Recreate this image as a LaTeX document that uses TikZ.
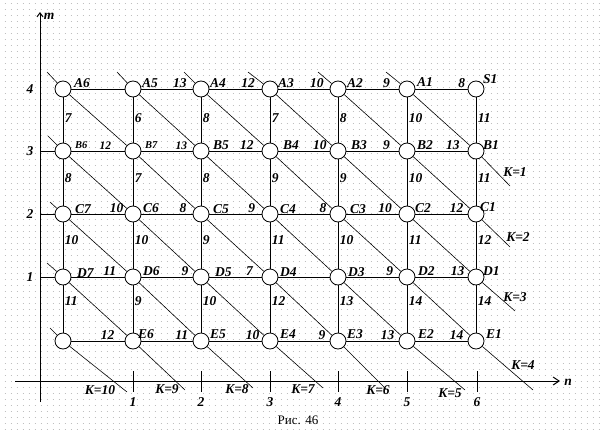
\documentclass[tikz,border=0pt]{standalone}
\usepackage{fontspec}
\setmainfont{Liberation Serif}
\usetikzlibrary{arrows.meta}
\begin{document}
\begin{tikzpicture}[x=1pt,y=-1pt,
  v/.style={circle,draw,fill=white,minimum size=16pt,inner sep=0pt,line width=0.8pt},
  bi/.style={font=\fontsize{13.5}{14}\selectfont\bfseries\itshape},
  nm/.style={bi,anchor=west,inner sep=0pt},
  nms/.style={nm,font=\fontsize{10.5}{11}\selectfont\bfseries\itshape},
  hw/.style={bi,above,inner sep=1pt},
  hws/.style={hw,font=\fontsize{11.5}{12}\selectfont\bfseries\itshape},
  vw/.style={bi,right,inner sep=1.5pt},
  edge/.style={line width=0.85pt},
  diag/.style={line width=0.6pt},
  axis/.style={line width=1pt},
  klab/.style={bi,inner sep=0pt},
]
\useasboundingbox (0,0) rectangle (604,434);
\fill[white] (0,0) rectangle (604,434);
% dotted background
\foreach \yy in {3,9,...,434}
  \draw[black!25,line width=1pt,dash pattern=on 1pt off 5pt] (4.5,\yy) -- (604,\yy);

% axes
\coordinate (mlo) at (40,402);
\coordinate (mhi) at (40,12);
\coordinate (nlo) at (15,381);
\coordinate (nhi) at (560,381);
\draw[axis,-{Straight Barb[length=4pt,width=6pt]}] (mlo) -- (mhi);
\draw[axis,-{Straight Barb[length=6pt,width=8pt]}] (nlo) -- (nhi);
\node[bi,inner sep=0pt] (mlab) at (49,16) {m};
\node[bi,inner sep=0pt] (nlab) at (568,382) {n};
\foreach \x/\t in {133/1,201/2,270/3,338/4,407/5,477/6}{
  \draw[axis] (\x,371) -- (\x,392);
  \node[bi,inner sep=0pt] (nt\t) at (\x,402) {\t};
}
\foreach \y/\t in {89/4,151/3,214/2,277/1}
  \node[bi,inner sep=0pt] (mt\t) at (30,\y) {\t};

% nodes
\foreach \n/\x/\y in {A6/63/89,A5/133/89,A4/201/89,A3/270/89,A2/338/89,A1/407/89,S1/476/89,
  B6/63/151,B7/133/151,B5/201/151,B4/270/151,B3/338/151,B2/407/151,B1/476/151,
  C7/63/214,C6/133/214,C5/201/214,C4/270/214,C3/338/214,C2/407/214,C1/476/214,
  D7/63/277,D6/133/277,D5/201/277,D4/270/277,D3/338/277,D2/407/277,D1/476/277,
  E7/63/341,E6/133/341,E5/201/341,E4/270/341,E3/338/341,E2/407/341,E1/476/341}
  \node[v] (\n) at (\x,\y) {};

% node names
\foreach \n/\x/\y in {A6/74/83,A5/142/83,A4/210/83,A3/278/83,A2/347/83,A1/417/82,S1/483/79,
  B5/213/145,B4/283/145,B3/351/145,B2/417/145,B1/483/145,
  C7/75/209,C6/143/208,C5/213/209,C4/280/209,C3/350/209,C2/415/208,C1/480/207,
  D7/77/273,D6/143/271,D5/215/272,D4/280/272,D3/348/272,D2/418/271,D1/483/271,
  E6/138/334,E5/210/334,E4/280/334,E3/347/334,E2/418/334,E1/486/334}
  \node[nm] (t\n) at (\x,\y) {\n};
\node[nms] (tB6) at (75,145) {B6};
\node[nms] (tB7) at (145,145) {B7};

% axis-to-row lines
\coordinate (yB) at (40,151);
\coordinate (yC) at (40,214);
\coordinate (yD) at (40,277);
\draw[edge] (yB) -- (B6);
\draw[edge] (yC) -- (C7);
\draw[edge] (yD) -- (D7);

% horizontal edges
\draw[edge] (A6) -- (A5);
\draw[edge] (A5) -- node[hw,pos=.75]{13} (A4);
\draw[edge] (A4) -- node[hw,pos=.74]{12} (A3);
\draw[edge] (A3) -- node[hw,pos=.75]{10} (A2);
\draw[edge] (A2) -- node[hw,pos=.77]{9} (A1);
\draw[edge] (A1) -- node[hw,pos=.89]{8} (S1);

\draw[edge] (B6) -- node[hws,pos=.64]{12} (B7);
\draw[edge] (B7) -- node[hws,pos=.78]{13} (B5);
\draw[edge] (B5) -- node[hw,pos=.72]{12} (B4);
\draw[edge] (B4) -- node[hw,pos=.81]{10} (B3);
\draw[edge] (B3) -- node[hw,pos=.77]{9} (B2);
\draw[edge] (B2) -- node[hw,pos=.72]{13} (B1);

\draw[edge] (C7) -- node[hw,pos=.85]{10} (C6);
\draw[edge] (C6) -- node[hw,pos=.81]{8} (C5);
\draw[edge] (C5) -- node[hw,pos=.81]{9} (C4);
\draw[edge] (C4) -- node[hw,pos=.87]{8} (C3);
\draw[edge] (C3) -- node[hw,pos=.74]{10} (C2);
\draw[edge] (C2) -- node[hw,pos=.79]{12} (C1);

\draw[edge] (D7) -- node[hw,pos=.72]{11} (D6);
\draw[edge] (D6) -- node[hw,pos=.85]{9} (D5);
\draw[edge] (D5) -- node[hw,pos=.77]{7} (D4);
\draw[edge] (D4) -- (D3);
\draw[edge] (D3) -- node[hw,pos=.83]{9} (D2);
\draw[edge] (D2) -- node[hw,pos=.81]{13} (D1);

\draw[edge] (E7) -- node[hw,pos=.68]{12} (E6);
\draw[edge] (E6) -- node[hw,pos=.79]{11} (E5);
\draw[edge] (E5) -- node[hw,pos=.83]{10} (E4);
\draw[edge] (E4) -- node[hw,pos=.85]{9} (E3);
\draw[edge] (E3) -- node[hw,pos=.79]{13} (E2);
\draw[edge] (E2) -- node[hw,pos=.79]{14} (E1);

% vertical edges
\foreach \na/\nb/\nc/\nd/\ne/\qa/\qb/\qc/\qd in {
  A6/B6/C7/D7/E7/7/8/10/11,
  A5/B7/C6/D6/E6/6/7/10/9,
  A4/B5/C5/D5/E5/8/8/9/10,
  A3/B4/C4/D4/E4/7/9/11/12,
  A2/B3/C3/D3/E3/8/9/10/13,
  A1/B2/C2/D2/E2/10/10/11/14,
  S1/B1/C1/D1/E1/11/11/12/14}{
  \draw[edge] (\na) -- node[vw,pos=.46]{\qa} (\nb)
                    -- node[vw,pos=.40]{\qb} (\nc)
                    -- node[vw,pos=.38]{\qc} (\nd)
                    -- node[vw,pos=.34]{\qd} (\ne);
}

% diagonals
\coordinate (s1) at (386,72);  \coordinate (e1) at (510,186);
\coordinate (s2) at (318,72);  \coordinate (e2) at (510,247);
\coordinate (s3) at (248,72);  \coordinate (e3) at (515,311);
\coordinate (s4) at (184,72);  \coordinate (e4) at (533,390);
\coordinate (s5) at (117,72);  \coordinate (e5) at (465,390);
\coordinate (s6) at (47,72);   \coordinate (e6) at (386,389);
\coordinate (s7) at (48,136);  \coordinate (e7) at (323,388);
\coordinate (s8) at (50,202);  \coordinate (e8) at (253,388);
\coordinate (s9) at (47,263);  \coordinate (e9) at (185,390);
\coordinate (s10) at (50,328); \coordinate (e10) at (127,392);
\draw[diag] (s1) -- (A1) -- (B1) -- (e1);
\draw[diag] (s2) -- (A2) -- (B2) -- (C1) -- (e2);
\draw[diag] (s3) -- (A3) -- (B3) -- (C2) -- (D1) -- (e3);
\draw[diag] (s4) -- (A4) -- (B4) -- (C3) -- (D2) -- (E1) -- (e4);
\draw[diag] (s5) -- (A5) -- (B5) -- (C4) -- (D3) -- (E2) -- (e5);
\draw[diag] (s6) -- (A6) -- (B7) -- (C5) -- (D4) -- (E3) -- (e6);
\draw[diag] (s7) -- (B6) -- (C6) -- (D5) -- (E4) -- (e7);
\draw[diag] (s8) -- (C7) -- (D6) -- (E5) -- (e8);
\draw[diag] (s9) -- (D7) -- (E6) -- (e9);
\draw[diag] (s10) -- (E7) -- (e10);

% K labels
\node[klab] (k1) at (515,172) {K=1};
\node[klab] (k2) at (518,237) {K=2};
\node[klab] (k3) at (515,297) {K=3};
\node[klab] (k4) at (523,365) {K=4};
\node[klab] (k5) at (450,393) {K=5};
\node[klab] (k6) at (378,390) {K=6};
\node[klab] (k7) at (303,389) {K=7};
\node[klab] (k8) at (237,389) {K=8};
\node[klab] (k9) at (167,389) {K=9};
\node[klab] (k10) at (100,390) {K=10};

% caption
\node[font=\fontsize{13}{14}\selectfont,inner sep=0pt] (cap) at (298,420) {Рис. 46};
\end{tikzpicture}
\end{document}
